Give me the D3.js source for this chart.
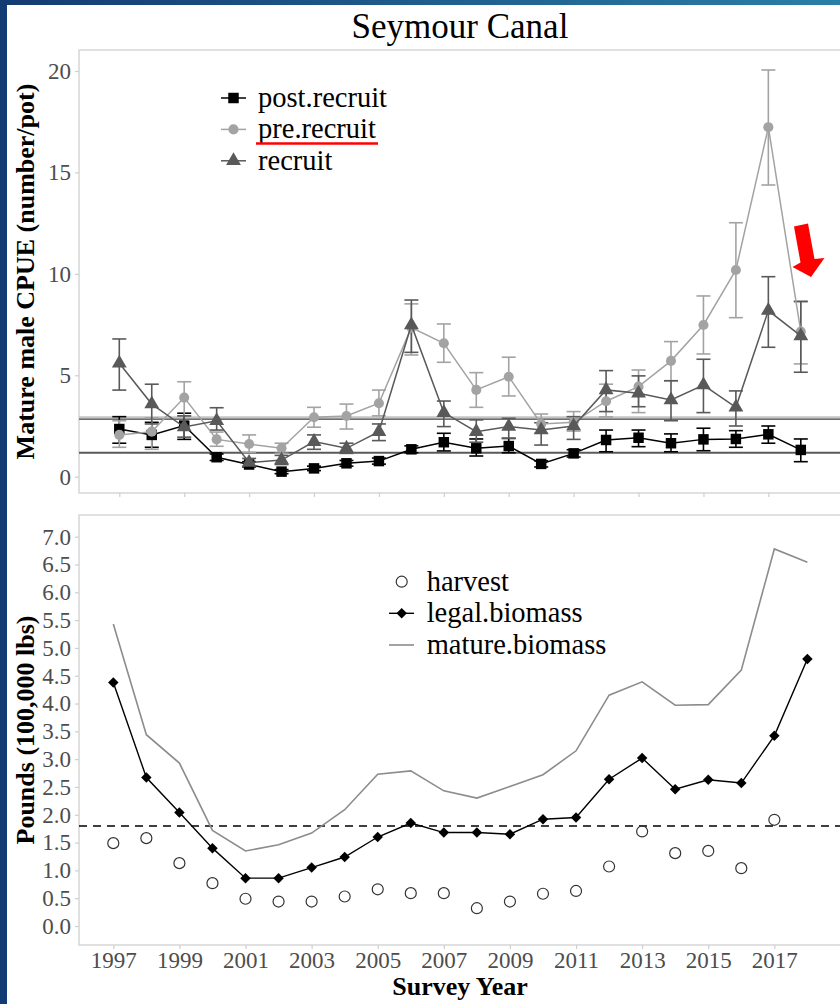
<!DOCTYPE html>
<html><head><meta charset="utf-8">
<script src="https://cdn.jsdelivr.net/npm/d3@7"></script>
<style>body{margin:0;background:#fff}svg{display:block}</style>
</head><body>
<script>
const years = d3.range(1997, 2019);
const postRecruit   = [2.35,2.06,2.52,0.96,0.60,0.25,0.41,0.66,0.77,1.35,1.70,1.40,1.51,0.63,1.15,1.81,1.92,1.65,1.84,1.86,2.09,1.32];
const postRecruitLo = [1.65,1.45,1.84,0.80,0.48,0.15,0.30,0.52,0.62,1.18,1.27,1.02,1.18,0.48,0.97,1.23,1.48,1.23,1.28,1.45,1.65,0.74];
const postRecruitHi = [2.96,2.68,3.13,1.12,0.74,0.35,0.52,0.80,0.92,1.52,2.14,1.86,1.89,0.78,1.33,2.30,2.30,2.11,2.39,2.27,2.50,1.86];
const preRecruit    = [2.06,2.22,3.90,1.84,1.61,1.40,2.93,2.99,3.62,7.35,6.58,4.28,4.93,2.60,2.68,3.72,4.44,5.71,7.48,10.19,17.23,7.15];
const preRecruitLo  = [1.45,1.35,2.99,1.50,1.20,1.15,2.44,2.35,3.00,6.00,5.64,3.42,3.98,2.15,2.25,2.95,3.16,4.73,6.05,7.84,14.38,5.56];
const preRecruitHi  = [2.76,2.90,4.68,2.20,2.06,1.65,3.42,3.58,4.27,8.52,7.53,5.13,5.89,3.09,3.21,4.56,5.26,6.66,8.91,12.52,20.05,8.66];
const recruit       = [5.59,3.58,2.45,2.76,0.70,0.82,1.73,1.40,2.22,7.48,3.16,2.22,2.47,2.30,2.50,4.28,4.11,3.78,4.52,3.42,8.19,6.94];
const recruitLo     = [4.27,2.60,1.95,2.30,0.50,0.60,1.35,1.15,1.78,6.13,2.47,1.70,1.89,1.56,1.84,3.21,3.45,2.76,3.16,2.50,6.38,5.15];
const recruitHi     = [6.79,4.56,3.00,3.40,0.90,1.05,2.06,1.65,2.60,8.71,3.73,2.80,2.88,2.66,2.96,5.23,4.97,4.73,5.79,4.23,9.86,8.63];
const cpueRefLines = [2.91, 2.83, 1.18];

const harvest       = [1.49,1.58,1.13,0.77,0.49,0.44,0.44,0.53,0.66,0.59,0.59,0.32,0.44,0.58,0.63,1.07,1.70,1.31,1.35,1.04,1.91,null];
const legalBiomass  = [4.38,2.67,2.04,1.40,0.86,0.86,1.05,1.24,1.60,1.85,1.68,1.68,1.65,1.92,1.95,2.64,3.02,2.46,2.63,2.57,3.42,4.80];
const matureBiomass = [5.43,3.44,2.93,1.72,1.35,1.46,1.67,2.09,2.73,2.79,2.43,2.30,2.51,2.72,3.15,4.15,4.39,3.97,3.98,4.60,6.78,6.54];
const biomassRef = 1.8;

const xTickYears = [1997,1999,2001,2003,2005,2007,2009,2011,2013,2015,2017];
const cpueTicks = [0,5,10,15,20];
const poundTicks = d3.range(0, 7.01, 0.5);

(function(){
const W = 840, H = 1004;
const FONT = "'Liberation Serif','Times New Roman',serif";
const svg = d3.select("body").append("svg").attr("width", W).attr("height", H);

const defs = svg.append("defs");
const grad = defs.append("linearGradient").attr("id","topg").attr("x1","0").attr("x2","1");
grad.append("stop").attr("offset","0").attr("stop-color","#143a72");
grad.append("stop").attr("offset","1").attr("stop-color","#2a7fa6");
svg.append("rect").attr("x",0).attr("y",0).attr("width",W).attr("height",H).attr("fill","#fff");
svg.append("rect").attr("x",0).attr("y",0).attr("width",W).attr("height",5).attr("fill","url(#topg)");
svg.append("rect").attr("x",0).attr("y",0).attr("width",7).attr("height",H).attr("fill","#123a73");

svg.append("text").attr("x",460).attr("y",38).attr("text-anchor","middle")
  .attr("font-family",FONT).attr("font-size",35).attr("fill","#000").text("Seymour Canal");

const frameL = 79, frameR = 841;
const topP = {y0:50, y1:493};
const botP = {y0:515, y1:945};

const xTop = d3.scaleLinear().domain([1997, 2018]).range([119.3, 800.8]);
const yTop = d3.scaleLinear().domain([0, 20]).range([476.7, 71]);
const xBot = d3.scaleLinear().domain([1997, 2018]).range([113.3, 807.4]);
const yBot = d3.scaleLinear().domain([0, 7]).range([926, 536.7]);

function frame(p){
  svg.append("rect").attr("x",frameL).attr("y",p.y0).attr("width",frameR-frameL).attr("height",p.y1-p.y0)
    .attr("fill","none").attr("stroke","#d6d6d6").attr("stroke-width",1.5);
}
frame(topP); frame(botP);

function styleAxis(g){
  g.select(".domain").remove();
  g.selectAll(".tick line").attr("stroke","#cfcfcf").attr("stroke-width",1.2);
  g.selectAll(".tick text").attr("font-family",FONT).attr("font-size",23).attr("fill","#4d4d4d");
}
svg.append("g").attr("transform",`translate(${frameL},0)`)
  .call(d3.axisLeft(yTop).tickValues(cpueTicks).tickSize(4).tickPadding(4).tickFormat(d3.format("d")))
  .call(styleAxis);
svg.append("g").attr("transform",`translate(0,${topP.y1})`)
  .call(d3.axisBottom(xTop).tickValues(xTickYears).tickSize(4).tickFormat(""))
  .call(styleAxis);
svg.append("g").attr("transform",`translate(${frameL},0)`)
  .call(d3.axisLeft(yBot).tickValues(poundTicks).tickSize(4).tickPadding(4).tickFormat(d3.format(".1f")))
  .call(styleAxis);
svg.append("g").attr("transform",`translate(0,${botP.y1})`)
  .call(d3.axisBottom(xBot).tickValues(xTickYears).tickSize(4).tickPadding(3).tickFormat(d3.format("d")))
  .call(styleAxis);

svg.append("text").attr("transform",`translate(34,${(topP.y0+topP.y1)/2}) rotate(-90)`).attr("text-anchor","middle")
  .attr("font-family",FONT).attr("font-weight","bold").attr("font-size",26).text("Mature male CPUE (number/pot)");
svg.append("text").attr("transform",`translate(34,${(botP.y0+botP.y1)/2}) rotate(-90)`).attr("text-anchor","middle")
  .attr("font-family",FONT).attr("font-weight","bold").attr("font-size",26).text("Pounds (100,000 lbs)");
svg.append("text").attr("x",460).attr("y",995).attr("text-anchor","middle")
  .attr("font-family",FONT).attr("font-weight","bold").attr("font-size",26).text("Survey Year");

const gTop = svg.append("g");
const refCols = [["#c4c4c4",3],["#6e6e6e",1.6],["#5a5a5a",2]];
cpueRefLines.forEach((v,i)=>{
  gTop.append("line").attr("x1",frameL).attr("x2",frameR).attr("y1",yTop(v)).attr("y2",yTop(v))
    .attr("stroke",refCols[i][0]).attr("stroke-width",refCols[i][1]);
});

const series = [
  {name:"post.recruit", v:postRecruit, lo:postRecruitLo, hi:postRecruitHi, col:"#000000", shape:d3.symbolSquare, size:110},
  {name:"pre.recruit",  v:preRecruit,  lo:preRecruitLo,  hi:preRecruitHi,  col:"#a3a3a3", shape:d3.symbolCircle, size:80},
  {name:"recruit",      v:recruit,     lo:recruitLo,     hi:recruitHi,     col:"#595959", shape:d3.symbolTriangle, size:95}
];
const cap = 7;
series.forEach(s=>{
  const d = years.map((y,i)=>({y, v:s.v[i], lo:s.lo[i], hi:s.hi[i]}));
  const eb = gTop.append("g").attr("stroke",s.col).attr("stroke-width",1.6).attr("fill","none");
  d.forEach(p=>{
    const x = xTop(p.y);
    eb.append("line").attr("x1",x).attr("x2",x).attr("y1",yTop(p.lo)).attr("y2",yTop(p.hi));
    eb.append("line").attr("x1",x-cap).attr("x2",x+cap).attr("y1",yTop(p.lo)).attr("y2",yTop(p.lo));
    eb.append("line").attr("x1",x-cap).attr("x2",x+cap).attr("y1",yTop(p.hi)).attr("y2",yTop(p.hi));
  });
});
series.forEach(s=>{
  const d = years.map((y,i)=>({y, v:s.v[i]}));
  gTop.append("path").datum(d).attr("fill","none").attr("stroke",s.col).attr("stroke-width",1.5)
    .attr("d", d3.line().x(p=>xTop(p.y)).y(p=>yTop(p.v)));
  gTop.selectAll(null).data(d).enter().append("path")
    .attr("transform",p=>`translate(${xTop(p.y)},${yTop(p.v)})`)
    .attr("d", d3.symbol().type(s.shape).size(s.size)).attr("fill",s.col);
});
series.forEach((s,i)=>{
  const cy = 98 + i*31.4;
  gTop.append("line").attr("x1",221).attr("x2",246).attr("y1",cy).attr("y2",cy).attr("stroke",s.col).attr("stroke-width",1.5);
  gTop.append("path").attr("transform",`translate(233.5,${cy})`).attr("d",d3.symbol().type(s.shape).size(s.size)).attr("fill",s.col);
  gTop.append("text").attr("x",258).attr("y",cy+9).attr("font-family",FONT).attr("font-size",28.5).attr("fill","#000").text(s.name);
});
svg.append("line").attr("x1",256).attr("x2",378).attr("y1",143.5).attr("y2",143.5).attr("stroke","#ff0000").attr("stroke-width",2.5);
svg.append("polygon").attr("points","794,226.5 808,223.5 814.5,259 824.5,258 811,277 792.5,267 800.5,262.5").attr("fill","#ff0000");

const gBot = svg.append("g");
gBot.append("line").attr("x1",frameL).attr("x2",frameR).attr("y1",yBot(biomassRef)).attr("y2",yBot(biomassRef))
  .attr("stroke","#000").attr("stroke-width",1.5).attr("stroke-dasharray","8,6");
const md = years.map((y,i)=>({y, v:matureBiomass[i]}));
gBot.append("path").datum(md).attr("fill","none").attr("stroke","#8c8c8c").attr("stroke-width",1.6)
  .attr("d", d3.line().x(p=>xBot(p.y)).y(p=>yBot(p.v)));
const ld = years.map((y,i)=>({y, v:legalBiomass[i]}));
gBot.append("path").datum(ld).attr("fill","none").attr("stroke","#000").attr("stroke-width",1.4)
  .attr("d", d3.line().x(p=>xBot(p.y)).y(p=>yBot(p.v)));
gBot.selectAll(null).data(ld).enter().append("path")
  .attr("transform",p=>`translate(${xBot(p.y)},${yBot(p.v)})`)
  .attr("d", d3.symbol().type(d3.symbolDiamond2).size(70)).attr("fill","#000");
const hd = years.map((y,i)=>({y, v:harvest[i]})).filter(p=>p.v!=null);
gBot.selectAll(null).data(hd).enter().append("circle")
  .attr("cx",p=>xBot(p.y)).attr("cy",p=>yBot(p.v)).attr("r",5.5)
  .attr("fill","none").attr("stroke","#333").attr("stroke-width",1.2);
const lx = 401.7;
gBot.append("circle").attr("cx",lx).attr("cy",581.7).attr("r",5.5).attr("fill","none").attr("stroke","#333").attr("stroke-width",1.2);
gBot.append("line").attr("x1",389).attr("x2",414).attr("y1",613.3).attr("y2",613.3).attr("stroke","#000").attr("stroke-width",1.4);
gBot.append("path").attr("transform",`translate(${lx},613.3)`).attr("d",d3.symbol().type(d3.symbolDiamond2).size(70)).attr("fill","#000");
gBot.append("line").attr("x1",389).attr("x2",414).attr("y1",645).attr("y2",645).attr("stroke","#8c8c8c").attr("stroke-width",1.6);
[["harvest",581.7],["legal.biomass",613.3],["mature.biomass",645]].forEach(([t,cy])=>{
  gBot.append("text").attr("x",426.7).attr("y",cy+9).attr("font-family",FONT).attr("font-size",28.5).attr("fill","#000").text(t);
});
})();
</script>
</body></html>
